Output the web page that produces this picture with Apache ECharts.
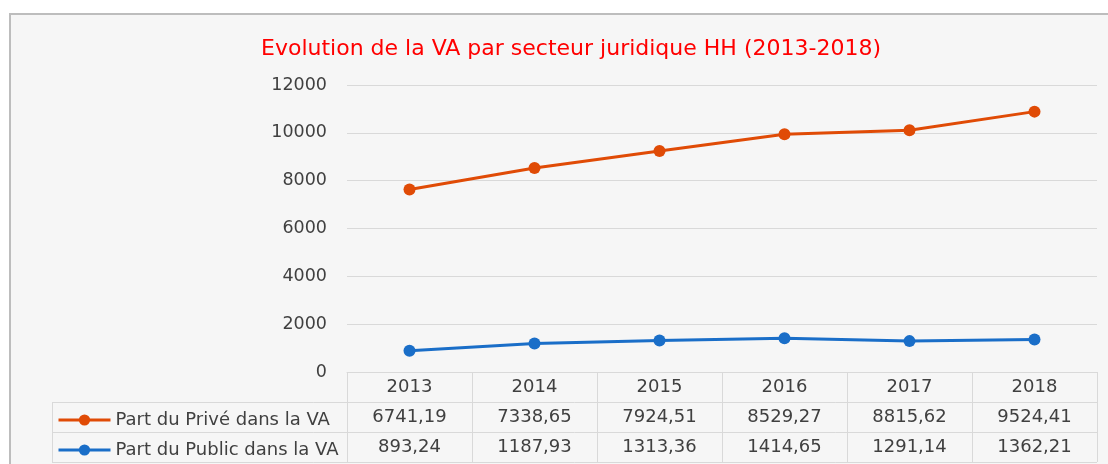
<!DOCTYPE html>
<html>
<head>
<meta charset="utf-8">
<script src="https://cdn.jsdelivr.net/npm/echarts@6/dist/echarts.min.js"></script>
<style>html,body{margin:0;padding:0;background:#fff;}#c{width:1108px;height:464px;}</style>
</head>
<body>
<div id="c"></div>
<script>
const years = ['2013', '2014', '2015', '2016', '2017', '2018'];
const prive = [6741.19, 7338.65, 7924.51, 8529.27, 8815.62, 9524.41];
const publicVals = [893.24, 1187.93, 1313.36, 1414.65, 1291.14, 1362.21];
const yTicks = [0, 2000, 4000, 6000, 8000, 10000, 12000];
const titleText = 'Evolution de la VA par secteur juridique HH (2013-2018)';
const namePrive = 'Part du Privé dans la VA';
const namePublic = 'Part du Public dans la VA';

const FONT = '"DejaVu Sans", sans-serif';
const fmt = v => v.toFixed(2).replace('.', ',');
const cOrange = '#e04b06';
const cBlue = '#1a6ec8';
const gridC = '#d9d9d9';
const txtC = '#404040';

const legendBase = {
  orient: 'horizontal',
  left: 52,
  itemWidth: 52, itemHeight: 14,
  lineStyle: { width: 3 },
  textStyle: { color: txtC, fontSize: 18, fontFamily: FONT }
};

const chart = echarts.init(document.getElementById('c'));
chart.setOption({
  backgroundColor: '#ffffff',
  animation: false,
  textStyle: { fontFamily: FONT },
  title: {
    text: titleText,
    left: 566, top: 33, textAlign: 'center',
    textStyle: { color: '#ff0000', fontSize: 22, fontWeight: 'normal', fontFamily: FONT }
  },
  legend: [
    Object.assign({}, legendBase, { data: [namePrive], top: 406 }),
    Object.assign({}, legendBase, { data: [namePublic], top: 436 })
  ],
  grid: { left: 347, right: 11, top: 85, bottom: 92, containLabel: false },
  xAxis: {
    type: 'category',
    data: years,
    boundaryGap: true,
    axisLine: { show: true, lineStyle: { color: gridC, width: 1 } },
    axisTick: { show: true, length: 90, lineStyle: { color: gridC, width: 1 } },
    axisLabel: {
      margin: 0,
      interval: 0,
      formatter: (v, i) => '{y|' + v + '}\n{v|' + fmt(prive[i]) + '}\n{v|' + fmt(publicVals[i]) + '}',
      rich: {
        y: { fontSize: 18, lineHeight: 30, color: txtC, fontFamily: FONT },
        v: { fontSize: 18, lineHeight: 30, color: txtC, fontFamily: FONT }
      }
    },
    splitLine: { show: false }
  },
  yAxis: {
    type: 'value',
    min: yTicks[0], max: yTicks[yTicks.length - 1], interval: 2000,
    axisLine: { show: false },
    axisTick: { show: false },
    axisLabel: { color: txtC, fontSize: 17.5, margin: 20, fontFamily: FONT, formatter: v => String(v) },
    splitLine: { show: true, lineStyle: { color: gridC, width: 1 } }
  },
  graphic: [
    { type: 'rect', z: -10, shape: { x: 10, y: 14, width: 1120, height: 470 },
      style: { fill: '#f6f6f6', stroke: '#bdbdbd', lineWidth: 2 } },
    { type: 'line', z: 5, shape: { x1: 52, y1: 402.5, x2: 1097, y2: 402.5 }, style: { stroke: gridC, lineWidth: 1 } },
    { type: 'line', z: 5, shape: { x1: 52, y1: 432.5, x2: 1097, y2: 432.5 }, style: { stroke: gridC, lineWidth: 1 } },
    { type: 'line', z: 5, shape: { x1: 52, y1: 462.5, x2: 1097, y2: 462.5 }, style: { stroke: gridC, lineWidth: 1 } },
    { type: 'line', z: 5, shape: { x1: 52.5, y1: 402, x2: 52.5, y2: 463 }, style: { stroke: gridC, lineWidth: 1 } }
  ],
  series: [
    {
      name: namePublic, type: 'line', stack: 'va', data: publicVals,
      symbol: 'circle', symbolSize: 12,
      lineStyle: { color: cBlue, width: 3 }, itemStyle: { color: cBlue }
    },
    {
      name: namePrive, type: 'line', stack: 'va', data: prive,
      symbol: 'circle', symbolSize: 12,
      lineStyle: { color: cOrange, width: 3 }, itemStyle: { color: cOrange }
    }
  ]
});
</script>
</body>
</html>
